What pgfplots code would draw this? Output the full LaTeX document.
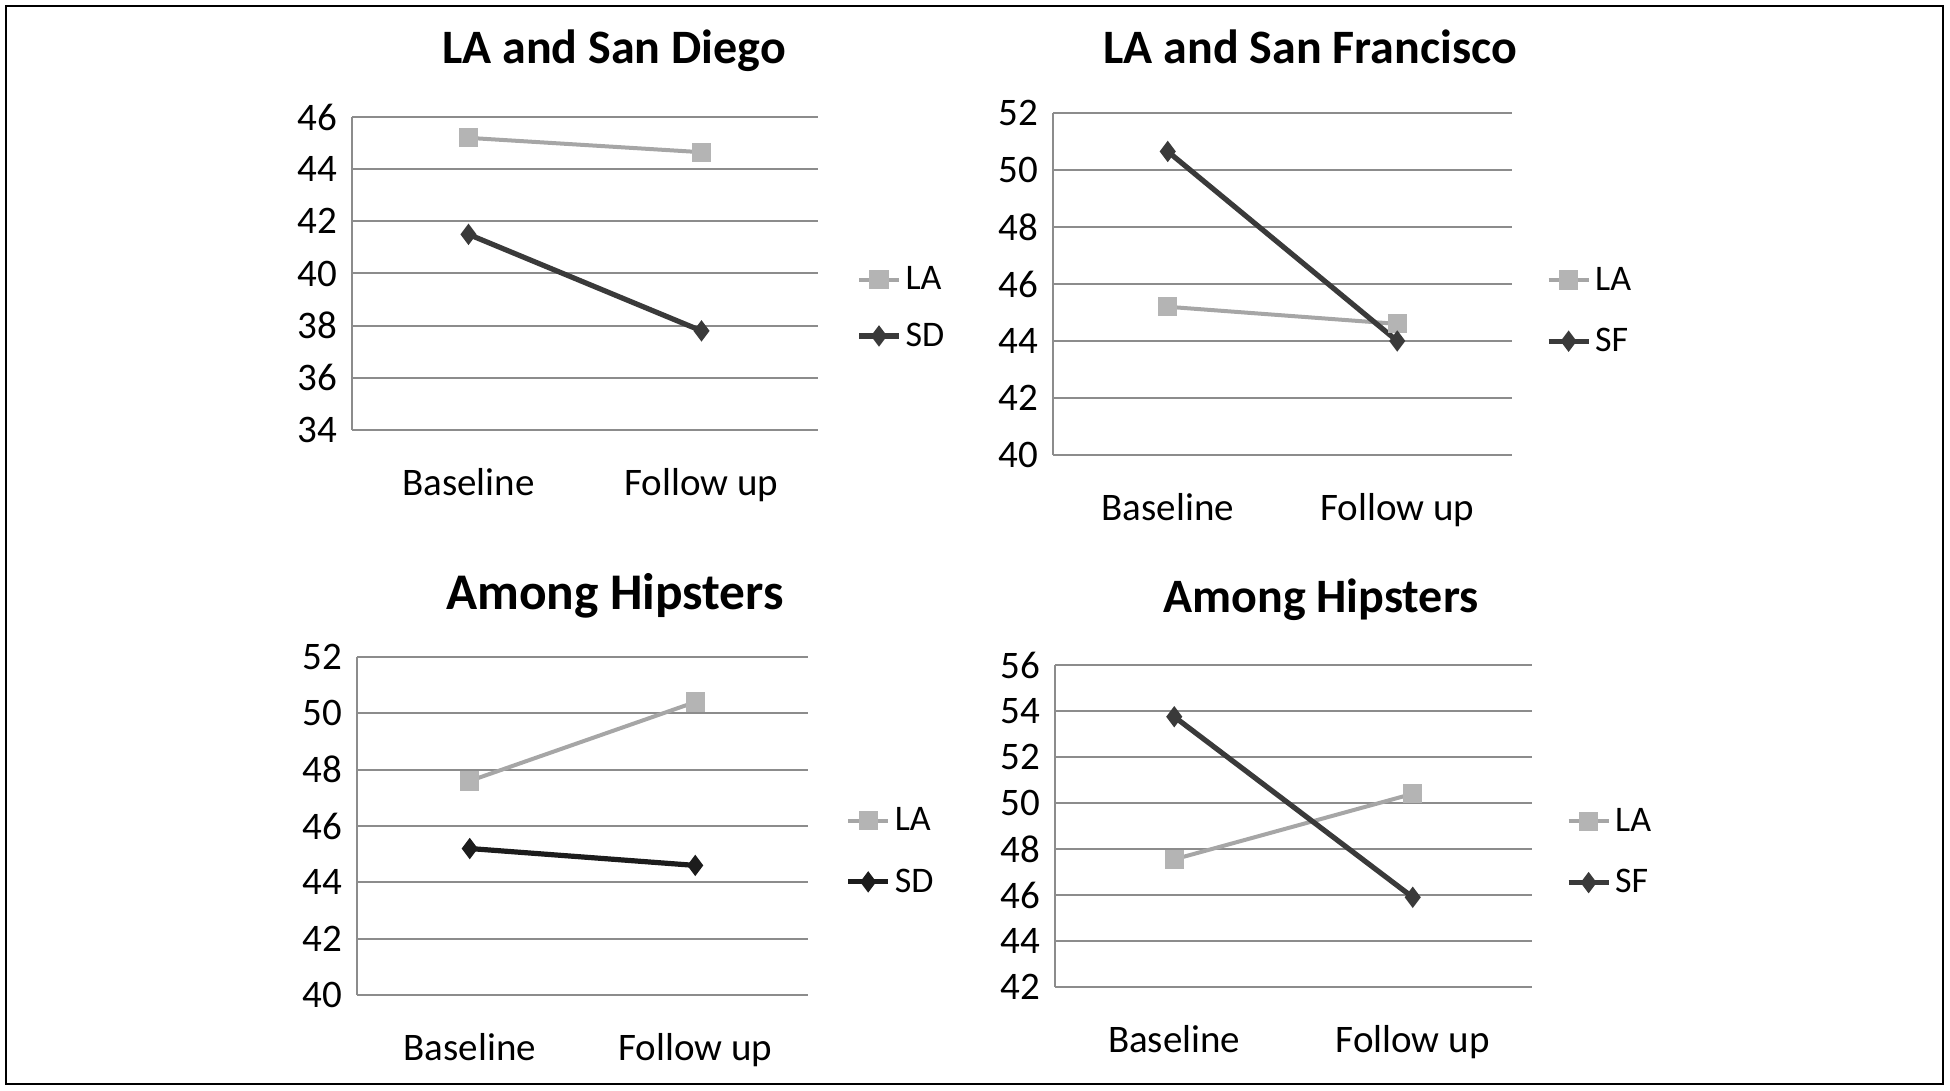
\documentclass[border=0pt]{standalone}
\usepackage{fontspec}
\setmainfont{Carlito}
\usepackage{pgfplots}
\pgfplotsset{compat=1.18}
\definecolor{lagray}{HTML}{A6A6A6}
\definecolor{lamark}{HTML}{B4B4B4}
\definecolor{darkline}{HTML}{3A3A3A}
\definecolor{blackline}{HTML}{1C1C1C}
\definecolor{gridgray}{HTML}{8C8C8C}

\pgfplotsset{
  panel/.style={
    scale only axis,
    xmin=-0.5, xmax=1.5,
    xtick={0,1}, xticklabels={Baseline,Follow up},
    axis x line*=bottom, axis y line*=left,
    axis line style={gridgray, line width=1pt},
    ymajorgrids, grid style={gridgray, line width=1pt},
    major tick length=0pt,
    tick label style={font=\fontsize{19.5}{22}\selectfont},
    xticklabel style={font=\fontsize{19.5}{22}\selectfont, yshift=-15.5pt},
    yticklabel style={xshift=-4pt},
    /pgf/number format/assume math mode=true,
    legend style={draw=none, fill=none, anchor=west, font=\fontsize{18}{20}\selectfont,
      row sep=13.5pt, inner sep=0pt},
    legend cell align=left,
    legend image code/.code={\draw[mark repeat=2,mark phase=2,##1] plot coordinates {(0pt,0pt) (10pt,0pt) (20pt,0pt)};},
    clip=false,
  },
  la/.style={lagray, line width=2pt, mark=square*, mark size=3.8pt,
    mark options={fill=lamark, draw=lamark, solid}},
  dk/.style={#1, line width=2.6pt, mark=diamond*, mark size=3.2pt,
    mark options={fill=#1, solid}},
}

\begin{document}
\begin{tikzpicture}
\useasboundingbox (0pt,0pt) rectangle (975pt,545.5pt);
\draw[line width=1pt] (3pt,3.5pt) rectangle (971.5pt,542.5pt);

% LA and San Diego
\begin{axis}[panel, at={(176pt,330.5pt)}, anchor=south west,
    width=233pt, height=156.5pt,
    ymin=34, ymax=46, ytick={34,36,...,46},
    legend style={at={(1,0.39)}, xshift=19pt, row sep=11pt}]
\addplot[la] coordinates {(0,45.2) (1,44.65)};
\addlegendentry{LA}
\addplot[dk=darkline] coordinates {(0,41.5) (1,37.8)};
\addlegendentry{SD}
\end{axis}

% LA and San Francisco
\begin{axis}[panel, at={(526.5pt,318pt)}, anchor=south west,
    width=229.5pt, height=171pt,
    ymin=40, ymax=52, ytick={40,42,...,52},
    legend style={at={(1,0.422)}, xshift=16.8pt}]
\addplot[la] coordinates {(0,45.2) (1,44.6)};
\addlegendentry{LA}
\addplot[dk=darkline] coordinates {(0,50.65) (1,44.0)};
\addlegendentry{SF}
\end{axis}

% Among Hipsters (SD)
\begin{axis}[panel, at={(178.5pt,48pt)}, anchor=south west,
    width=225.5pt, height=169pt,
    ymin=40, ymax=52, ytick={40,42,...,52},
    legend style={at={(1,0.425)}, xshift=18.6pt}]
\addplot[la] coordinates {(0,47.6) (1,50.4)};
\addlegendentry{LA}
\addplot[dk=blackline] coordinates {(0,45.2) (1,44.6)};
\addlegendentry{SD}
\end{axis}

% Among Hipsters (SF)
\begin{axis}[panel, at={(527.5pt,52pt)}, anchor=south west,
    width=238.5pt, height=161pt,
    ymin=42, ymax=56, ytick={42,44,...,56},
    legend style={at={(1,0.419)}, xshift=16.8pt}]
\addplot[la] coordinates {(0,47.55) (1,50.4)};
\addlegendentry{LA}
\addplot[dk=darkline] coordinates {(0,53.75) (1,45.9)};
\addlegendentry{SF}
\end{axis}

\begin{scope}[every node/.style={font=\fontsize{24}{28}\selectfont\bfseries}]
\node at (307pt,520pt) {LA and San Diego};
\node at (655pt,522pt) {LA and San Francisco};
\node[font=\fontsize{25.7}{30}\selectfont\bfseries] at (307.5pt,247.5pt) {Among Hipsters};
\node at (660.5pt,245.5pt) {Among Hipsters};
\end{scope}
\end{tikzpicture}
\end{document}
